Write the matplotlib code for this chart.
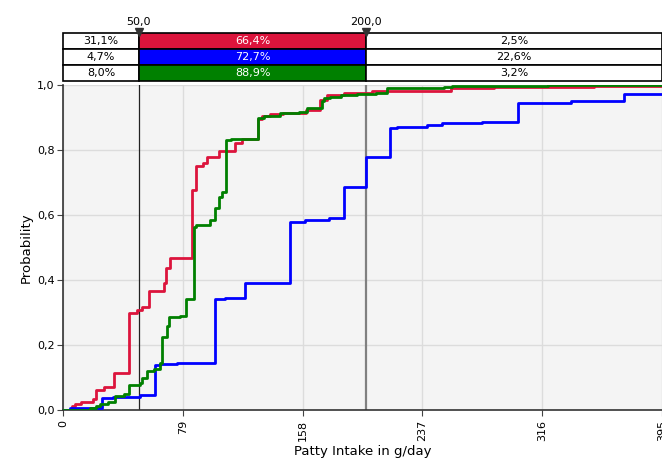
import matplotlib
matplotlib.use("Agg")
import matplotlib.pyplot as plt
from matplotlib.ticker import FuncFormatter, FixedLocator
from matplotlib.patches import Rectangle

# ---- data ----
red_x = [0, 5.7, 8, 12, 20, 22, 27, 33.9, 43.2, 43.8, 49.1, 52, 57, 66.3, 68, 70.7,
         85, 87.8, 92.3, 94.9, 102.6, 113.6, 118, 128.3, 131, 136.7, 145, 160, 169.7,
         174.2, 185, 203.9, 205, 255.6, 284.2, 350, 395]
red_p = [0, 0.012, 0.02, 0.025, 0.033, 0.062, 0.07, 0.115, 0.246, 0.298, 0.308, 0.317,
         0.367, 0.39, 0.436, 0.467, 0.677, 0.751, 0.759, 0.779, 0.798, 0.823, 0.833,
         0.894, 0.905, 0.911, 0.915, 0.923, 0.954, 0.969, 0.974, 0.98, 0.982, 0.99,
         0.995, 0.998, 0.998]

green_x = [0, 18, 22, 24.4, 30, 34.3, 40, 43.2, 50.9, 52, 55.7, 60, 64, 65.2, 68.5,
           70.2, 77, 81.2, 86.1, 87.8, 96.7, 100.4, 102.6, 104.8, 107.7, 111, 118,
           128.3, 132.3, 143.3, 155.4, 161, 170.9, 172, 175.9, 183, 194, 206.1, 213.6,
           251.2, 256.7, 320, 395]
green_p = [0, 0.005, 0.012, 0.02, 0.025, 0.043, 0.05, 0.077, 0.082, 0.10, 0.121, 0.125,
           0.144, 0.224, 0.258, 0.287, 0.29, 0.341, 0.564, 0.568, 0.585, 0.62, 0.656,
           0.67, 0.831, 0.833, 0.835, 0.897, 0.905, 0.913, 0.918, 0.928, 0.952, 0.959,
           0.964, 0.969, 0.971, 0.974, 0.99, 0.995, 0.997, 0.999, 0.999]

blue_x = [0, 4.6, 25.5, 33.2, 50.9, 60.8, 64, 75, 100.4, 107, 120.2, 149.9, 159.8,
          175.3, 185.1, 200.1, 215.5, 220.4, 240.2, 250.1, 276.5, 300, 320.5, 334.9,
          370.1, 395]
blue_p = [0, 0.005, 0.036, 0.041, 0.046, 0.138, 0.141, 0.144, 0.341, 0.344, 0.39,
          0.579, 0.585, 0.590, 0.687, 0.778, 0.869, 0.872, 0.877, 0.884, 0.887, 0.944,
          0.946, 0.951, 0.972, 0.972]

series_colors = ["#DC143C", "#0000FF", "#008000"]
thresholds = [50.0, 200.0]
table_left = ["31,1%", "4,7%", "8,0%"]
table_mid = ["66,4%", "72,7%", "88,9%"]
table_right = ["2,5%", "22,6%", "3,2%"]
x_ticks = [0, 79, 158, 237, 316, 395]
y_ticks = [0.0, 0.2, 0.4, 0.6, 0.8, 1.0]
x_max = 395

W, H = 662, 462
fig = plt.figure(figsize=(W / 100, H / 100), dpi=100)

def fx(px):
    return px / W

def fy(py):
    return 1 - py / H

ax = fig.add_axes([fx(63), fy(410), fx(662) - fx(63), fy(85) - fy(410)])
ax.set_facecolor("#F4F4F4")
ax.set_xlim(0, x_max)
ax.set_ylim(0, 1)
ax.grid(True, color="#DCDCDC", linewidth=1.0)
ax.set_axisbelow(True)

for xs, ps, c in [(red_x, red_p, series_colors[0]), (blue_x, blue_p, series_colors[1]),
                  (green_x, green_p, series_colors[2])]:
    ax.step(xs, ps, where="post", color=c, linewidth=2.0, zorder=3)

ax.axvline(thresholds[0], color="#222222", linewidth=0.9, zorder=2)
ax.axvline(thresholds[1], color="#808080", linewidth=1.6, zorder=2)

ax.xaxis.set_major_locator(FixedLocator(x_ticks))
ax.yaxis.set_major_locator(FixedLocator(y_ticks))
ax.yaxis.set_major_formatter(FuncFormatter(lambda v, p: f"{v:.1f}".replace(".", ",")))
ax.xaxis.set_major_formatter(FuncFormatter(lambda v, p: f"{int(v)}"))
ax.tick_params(axis="x", labelrotation=90, labelsize=8, length=4, color="#444444", pad=3)
ax.tick_params(axis="y", labelsize=8, length=4, color="#444444", pad=2)
for s in ["top", "right"]:
    ax.spines[s].set_visible(False)
for s in ["left", "bottom"]:
    ax.spines[s].set_color("#333333")
    ax.spines[s].set_linewidth(1.2)
ax.set_xlabel("Patty Intake in g/day", fontsize=9.5, labelpad=3)
ax.set_ylabel("Probability", fontsize=9.5, labelpad=3)

# ---- table above ----
tax = fig.add_axes([fx(63), fy(81), fx(662) - fx(63), fy(33) - fy(81)])
tax.set_xlim(0, x_max)
tax.set_ylim(0, 3)
tax.axis("off")
bounds = [0, thresholds[0], thresholds[1], x_max]
for r in range(3):
    y0 = 2 - r
    cells = [table_left[r], table_mid[r], table_right[r]]
    for ci in range(3):
        x0, x1 = bounds[ci], bounds[ci + 1]
        fc = series_colors[r] if ci == 1 else "white"
        tax.add_patch(Rectangle((x0, y0), x1 - x0, 1, facecolor=fc, edgecolor="black",
                                linewidth=1.2, clip_on=False))
        tax.text((x0 + x1) / 2, y0 + 0.5, cells[ci], ha="center", va="center",
                 fontsize=8, color="white" if ci == 1 else "black")

for t in thresholds:
    tax.plot([t], [3.05], marker="v", color="#333333", markersize=6, clip_on=False,
             zorder=5)
    tax.text(t, 3.35, f"{t:.1f}".replace(".", ","), ha="center", va="bottom",
             fontsize=8)

fig.savefig("out.png", dpi=100)
